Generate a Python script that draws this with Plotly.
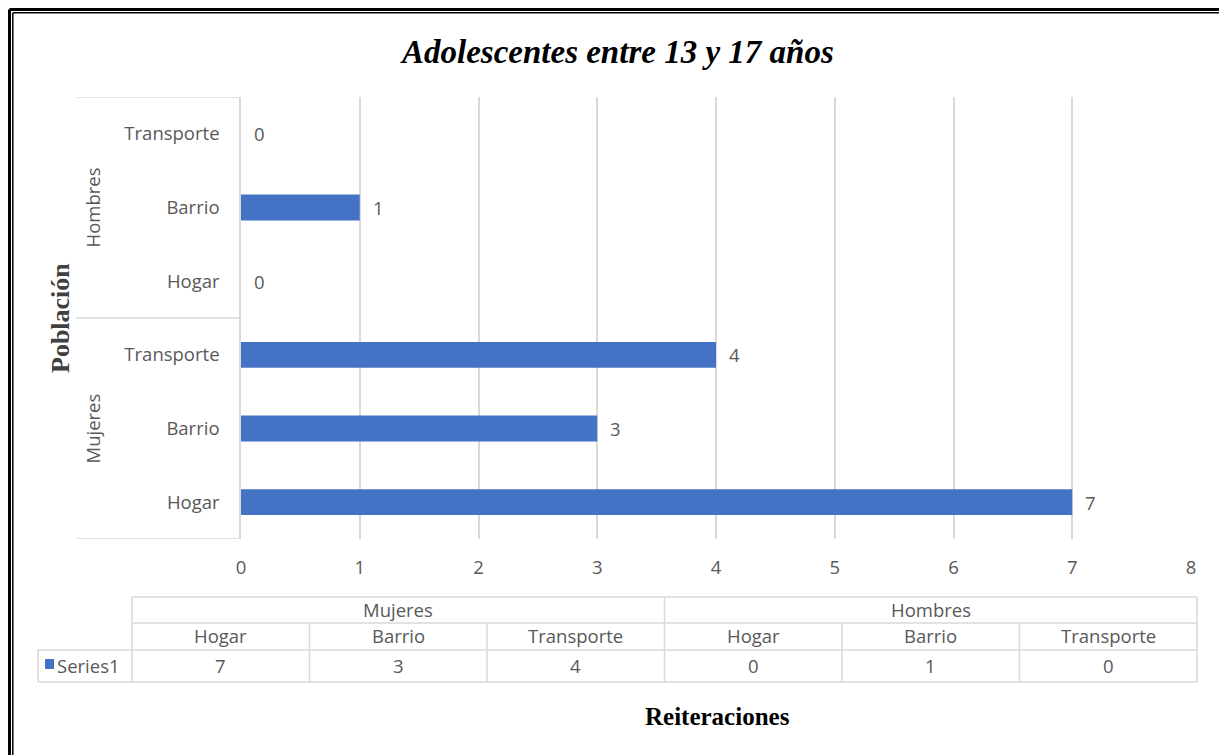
import plotly.graph_objects as go

# ---- data ----
groups = ["Mujeres", "Mujeres", "Mujeres", "Hombres", "Hombres", "Hombres"]
places = ["Hogar", "Barrio", "Transporte", "Hogar", "Barrio", "Transporte"]
values = [7, 3, 4, 0, 1, 0]
series_name = "Series1"
x_ticks = [0, 1, 2, 3, 4, 5, 6, 7, 8]

title_text = "Adolescentes entre 13 y 17 años"
y_title = "Población"
x_title = "Reiteraciones"

# ---- styling ----
BAR = "#4472C4"
GRID = "#d9d9d9"
TXT = "#595959"
SANS = "Open Sans"
SERIF = "Liberation Serif"
FS = 18.5

W, H = 1219, 755
PL, PR, PT, PB = 241, 1191, 97, 539  # plot area in pixels


def fx(px):
    return (px - PL) / (PR - PL)


def fy(py):
    return (PB - py) / (PB - PT)


ypos = list(range(len(values)))

fig = go.Figure(
    go.Bar(
        x=values,
        y=ypos,
        orientation="h",
        width=0.35,
        marker=dict(color=BAR, line=dict(width=0)),
        name=series_name,
        hoverinfo="x+y",
    )
)

shapes = []
annotations = []


def hline(x0, x1, y, color=GRID, width=1.5, ref="paper"):
    shapes.append(dict(type="line", xref="paper", yref=ref, x0=x0, x1=x1,
                       y0=y, y1=y, line=dict(color=color, width=width)))


def vline(x, y0, y1, color=GRID, width=1.5):
    shapes.append(dict(type="line", xref="paper", yref="paper", x0=x, x1=x,
                       y0=y0, y1=y1, line=dict(color=color, width=width)))


def label(x, y, text, size=FS, color=TXT, family=SANS, xanchor="center", **kw):
    annotations.append(dict(x=x, y=y, xref="paper", yref="paper", text=text,
                            showarrow=False, xanchor=xanchor, yanchor="middle",
                            font=dict(family=family, size=size, color=color),
                            **kw))


# value labels beside each bar
for i, v in enumerate(values):
    annotations.append(dict(x=v, y=i, xref="x", yref="y", text=str(v),
                            showarrow=False, xanchor="left", yanchor="middle",
                            xshift=11,
                            font=dict(family=SANS, size=FS, color=TXT)))

# group brackets on the category axis
order = []
for g in groups:
    if g not in order:
        order.append(g)
for k, g in enumerate(order):
    idx = [i for i, gg in enumerate(groups) if gg == g]
    lo, hi = min(idx) - 0.5, max(idx) + 0.5
    hline(fx(76), fx(240), hi, ref="y")
    if k == 0:
        hline(fx(76), fx(240), lo, ref="y")
    annotations.append(dict(x=fx(92), y=sum(idx) / len(idx), xref="paper", yref="y",
                            text=g, textangle=-90, showarrow=False,
                            xanchor="center", yanchor="middle",
                            font=dict(family=SANS, size=FS, color=TXT)))

# data table underneath
TL, TR = 132, 1197
LEG_L = 38
R0, R1, R2, R3 = 597, 623, 650, 682
n = len(values)
cw = (TR - TL) / n
hline(fx(TL), fx(TR), fy(R0))
hline(fx(TL), fx(TR), fy(R1))
hline(fx(LEG_L), fx(TR), fy(R2))
hline(fx(LEG_L), fx(TR), fy(R3))
vline(fx(LEG_L), fy(R2), fy(R3))
vline(fx(TL), fy(R0), fy(R3))
vline(fx(TR), fy(R0), fy(R3))
for i in range(1, n):
    boundary = groups[i] != groups[i - 1]
    vline(fx(TL + i * cw), fy(R0 if boundary else R1), fy(R3))
for g in order:
    idx = [i for i, gg in enumerate(groups) if gg == g]
    cx = TL + (min(idx) + max(idx) + 1) / 2 * cw
    label(fx(cx), fy((R0 + R1) / 2 - 1), g)
for i in range(n):
    cx = TL + (i + 0.5) * cw
    label(fx(cx), fy((R1 + R2) / 2 - 1), places[i])
    label(fx(cx), fy((R2 + R3) / 2), str(values[i]))
shapes.append(dict(type="rect", xref="paper", yref="paper",
                   x0=fx(45), x1=fx(54), y0=fy(659), y1=fy(669),
                   fillcolor=BAR, line=dict(width=0)))
label(fx(55), fy((R2 + R3) / 2), series_name, xanchor="left")

# titles
label(fx(617), fy(52), title_text, size=33, color="#000000", family=SERIF)
annotations[-1]["font"].update(weight="bold", style="italic")
label(fx(60), fy(318), y_title, size=26, color="#404040", family=SERIF, textangle=-90)
annotations[-1]["font"].update(weight="bold")
label(fx(717), fy(716), x_title, size=25, color="#000000", family=SERIF)
annotations[-1]["font"].update(weight="bold")

# double frame on the left and top edges
for x, w in [(9.5, 3), (12.8, 1.5)]:
    vline(fx(x), fy(x), fy(H + 5), color="#000000", width=w)
    hline(fx(x), fx(W + 5), fy(x), color="#000000", width=w)

fig.update_layout(
    width=W,
    height=H,
    autosize=False,
    margin=dict(l=PL, r=W - PR, t=PT, b=H - PB, pad=0),
    paper_bgcolor="white",
    plot_bgcolor="white",
    showlegend=False,
    shapes=shapes,
    annotations=annotations,
    xaxis=dict(
        range=[x_ticks[0], x_ticks[-1]],
        tickvals=x_ticks,
        showgrid=True,
        gridcolor=GRID,
        gridwidth=1.5,
        zeroline=False,
        showline=False,
        ticks="",
        ticklabelstandoff=15,
        tickfont=dict(family=SANS, size=FS, color=TXT),
        fixedrange=True,
    ),
    yaxis=dict(
        range=[-0.5, len(values) - 0.5],
        tickvals=ypos,
        ticktext=places,
        showgrid=False,
        zeroline=False,
        showline=True,
        linecolor=GRID,
        linewidth=1.5,
        ticks="",
        ticklabelstandoff=16,
        tickfont=dict(family=SANS, size=FS, color=TXT),
        fixedrange=True,
    ),
)

fig.write_html("out.html")
